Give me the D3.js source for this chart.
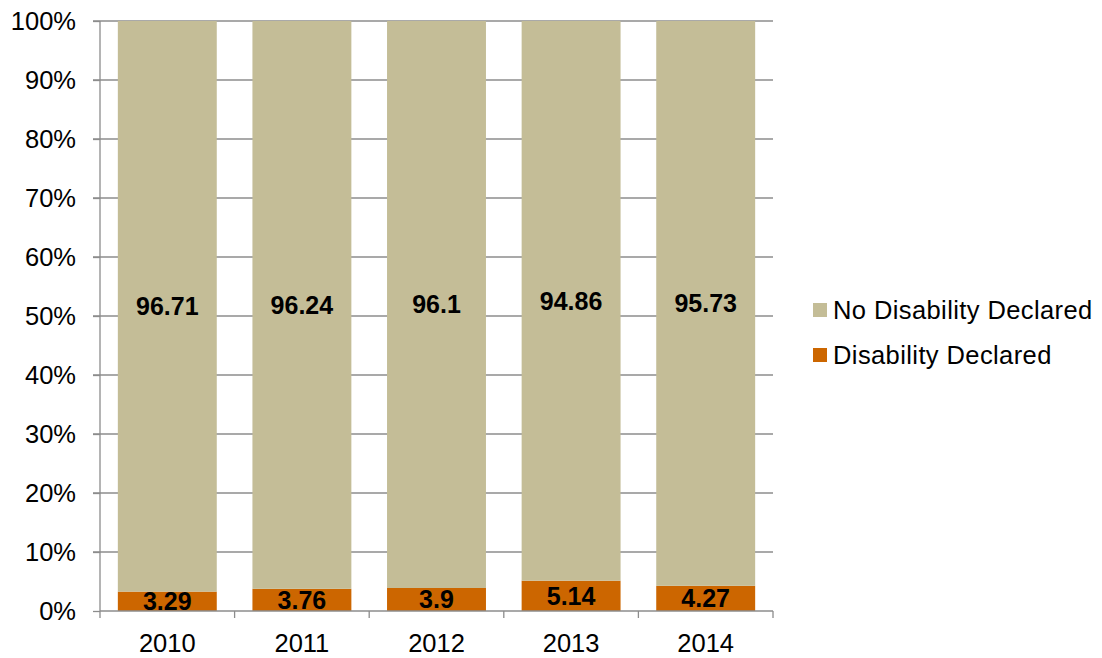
<!DOCTYPE html>
<html>
<head>
<meta charset="utf-8">
<script src="https://cdn.jsdelivr.net/npm/d3@7"></script>
<style>
  html, body { margin: 0; padding: 0; background: #fff; }
  svg { display: block; font-family: "Liberation Sans", Arial, sans-serif; }
</style>
</head>
<body>
<svg id="chart" width="1102" height="658"></svg>
<script>
const years = ["2010", "2011", "2012", "2013", "2014"];
const disabilityDeclared = [3.29, 3.76, 3.9, 5.14, 4.27];
const noDisabilityDeclared = [96.71, 96.24, 96.1, 94.86, 95.73];
const seriesNames = ["No Disability Declared", "Disability Declared"];
const seriesColors = ["#C4BD97", "#CC6600"];
const yTicks = [0, 10, 20, 30, 40, 50, 60, 70, 80, 90, 100];

(function () {
const svg = d3.select("#chart");
const mLeft = 100, mRight = 773, mTop = 21, mBottom = 611;

const x = d3.scaleBand().domain(years).range([mLeft, mRight]).paddingInner(0.265).paddingOuter(0.1325);
const y = d3.scaleLinear().domain([0, 100]).range([mBottom, mTop]);

const gridColor = "#8c8c8c";

// gridlines
svg.append("g").selectAll("line").data(yTicks.filter(d => d > 0)).join("line")
  .attr("x1", mLeft - 7).attr("x2", mRight)
  .attr("y1", d => y(d)).attr("y2", d => y(d))
  .attr("stroke", gridColor).attr("stroke-width", 1.3);

// y axis
const yAxis = d3.axisLeft(y).tickValues(yTicks).tickFormat(d => d + "%").tickSize(7).tickPadding(17);
const gy = svg.append("g").attr("transform", `translate(${mLeft},0)`).call(yAxis);
gy.select(".domain").attr("stroke", gridColor).attr("stroke-width", 1.3).attr("d", `M0,${mTop}V${mBottom}`);
gy.selectAll(".tick line").attr("stroke", gridColor).attr("stroke-width", 1.3);
gy.selectAll(".tick text").attr("font-size", 25.5).attr("fill", "#000")
  .attr("font-family", "Liberation Sans, Arial, sans-serif");

// stacked data
const rows = years.map((yr, i) => ({ year: yr, dis: disabilityDeclared[i], nodis: noDisabilityDeclared[i] }));

// bars
const gBars = svg.append("g");
gBars.selectAll("rect.dis").data(rows).join("rect").attr("class", "dis")
  .attr("x", d => x(d.year)).attr("width", x.bandwidth())
  .attr("y", d => y(d.dis)).attr("height", d => y(0) - y(d.dis))
  .attr("fill", seriesColors[1]);
gBars.selectAll("rect.nodis").data(rows).join("rect").attr("class", "nodis")
  .attr("x", d => x(d.year)).attr("width", x.bandwidth())
  .attr("y", d => y(d.dis + d.nodis)).attr("height", d => y(d.dis) - y(d.dis + d.nodis))
  .attr("fill", seriesColors[0]);

// x axis
const boundaries = years.map(yr => x(yr) - x.step() * x.paddingInner() / 2).concat([mRight]);
const gx = svg.append("g");
gx.append("line").attr("x1", mLeft).attr("x2", mRight).attr("y1", mBottom).attr("y2", mBottom)
  .attr("stroke", gridColor).attr("stroke-width", 1.3);
gx.selectAll("line.tk").data(boundaries).join("line").attr("class", "tk")
  .attr("x1", d => d).attr("x2", d => d).attr("y1", mBottom).attr("y2", mBottom + 7)
  .attr("stroke", gridColor).attr("stroke-width", 1.3);
gx.selectAll("text").data(years).join("text")
  .attr("x", d => x(d) + x.bandwidth() / 2).attr("y", mBottom + 41)
  .attr("text-anchor", "middle").attr("font-size", 25.5).attr("fill", "#000").text(d => d);

// labels
const gLab = svg.append("g").attr("font-weight", "bold").attr("font-size", 25).attr("text-anchor", "middle");
gLab.selectAll("text.nodis").data(rows).join("text").attr("class", "nodis")
  .attr("x", d => x(d.year) + x.bandwidth() / 2)
  .attr("y", d => y(d.dis + d.nodis / 2)).attr("dy", "0.35em").text(d => d.nodis);
gLab.selectAll("text.dis").data(rows).join("text").attr("class", "dis")
  .attr("x", d => x(d.year) + x.bandwidth() / 2)
  .attr("y", d => y(d.dis / 2)).attr("dy", "0.35em").text(d => d.dis);

// legend
const legend = svg.append("g");
const lg = legend.selectAll("g").data(seriesNames).join("g")
  .attr("transform", (d, i) => `translate(813,${310 + i * 45})`);
lg.append("rect").attr("x", 0).attr("y", -7).attr("width", 14).attr("height", 14)
  .attr("fill", (d, i) => seriesColors[i]);
lg.append("text").attr("x", 20).attr("y", 0).attr("dy", "0.35em")
  .attr("font-size", 25.5).attr("letter-spacing", 0.4).attr("fill", "#000").text(d => d);
})();
</script>
</body>
</html>
